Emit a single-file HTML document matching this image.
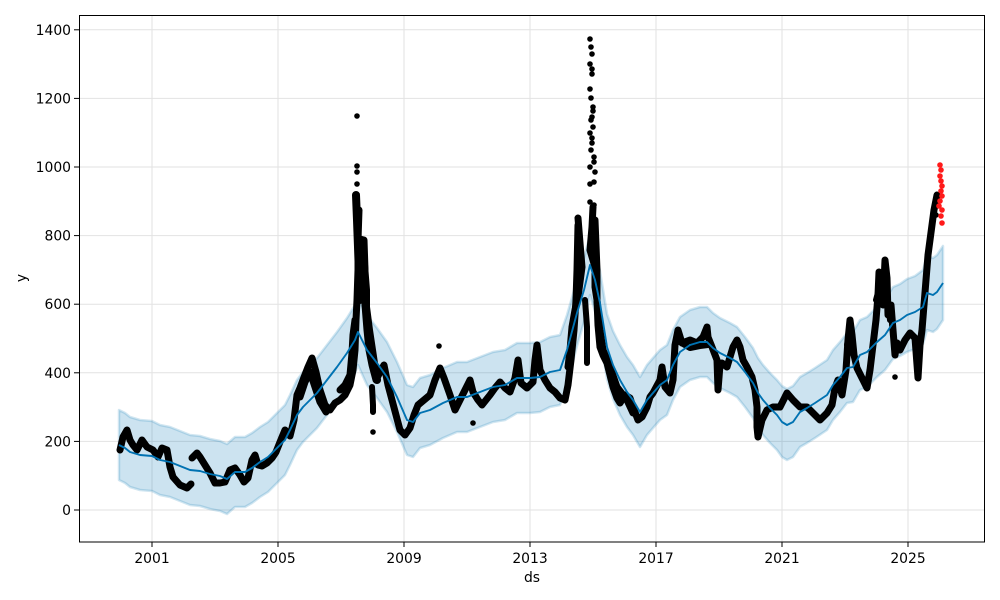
<!DOCTYPE html>
<html><head><meta charset="utf-8"><style>
html,body{margin:0;padding:0;background:#fff;}
svg{display:block;}
text{font-family:"DejaVu Sans","Liberation Sans",sans-serif;font-size:13.9px;fill:#000;}
</style></head><body>
<svg width="1000" height="600" viewBox="0 0 1000 600" xmlns="http://www.w3.org/2000/svg">
<defs>
<path id="ln" fill="none" d="M119,445 L125,448 130,452 140,455 152,456 160,460 170,462 180,466 190,470 200,471 210,474 220,476 227,479 235,472 245,472 252,468 260,462 268,457 278,447 285,440 290,430 297,415 303,407 310,400 317,393 327,380 337,367 347,353 355,340 358,332 362,340 367,350 377,363 387,377 397,397 407,420 413,422 420,413 430,410 443,403 457,397 467,397 480,392 493,387 505,385 517,378 530,378 540,377 550,372 560,370 567,350 577,313 584,290 590,265 595,280 600,303 607,347 613,365 620,380 627,392 633,400 640,412 647,400 653,393 660,385 667,380 673,365 680,352 690,345 700,342 707,342 713,348 720,353 730,358 737,362 745,372 753,383 758,393 763,400 770,408 777,415 782,422 787,425 793,422 800,412 807,408 815,403 827,395 833,385 840,377 847,368 853,367 860,355 867,352 877,342 885,335 893,323 900,320 907,315 915,312 923,307 927,293 933,295 937,292 943,283"/>
</defs>
<rect width="1000" height="600" fill="#fff"/>
<!-- grid -->
<g stroke="#e2e2e2" stroke-width="1">
<line x1="152" y1="15" x2="152" y2="542"/><line x1="278" y1="15" x2="278" y2="542"/><line x1="404" y1="15" x2="404" y2="542"/><line x1="530" y1="15" x2="530" y2="542"/><line x1="656" y1="15" x2="656" y2="542"/><line x1="782" y1="15" x2="782" y2="542"/><line x1="908" y1="15" x2="908" y2="542"/>
<line x1="79" y1="510" x2="985" y2="510"/><line x1="79" y1="441.4" x2="985" y2="441.4"/><line x1="79" y1="372.8" x2="985" y2="372.8"/><line x1="79" y1="304.2" x2="985" y2="304.2"/><line x1="79" y1="235.6" x2="985" y2="235.6"/><line x1="79" y1="167" x2="985" y2="167"/><line x1="79" y1="98.4" x2="985" y2="98.4"/><line x1="79" y1="29.8" x2="985" y2="29.8"/>
</g>
<!-- band -->
<polygon fill="#0072B2" fill-opacity="0.2" stroke="#0072B2" stroke-opacity="0.18" stroke-width="2.5" stroke-linejoin="round" points="119,410 125,413 130,417 140,420 152,421 160,425 170,427 180,431 190,435 200,436 210,439 220,441 227,444 235,437 245,437 252,433 260,427 268,422 278,412 285,405 290,395 297,380 303,372 310,365 317,358 327,345 337,332 347,318 355,305 358,299 362,306 367,315 377,328 387,342 397,362 407,385 413,387 420,378 430,375 443,368 457,362 467,362 480,357 493,352 505,350 517,343 530,343 540,342 550,337 560,335 567,315 577,280 584,258 590,235 595,249 600,271 607,314 613,331 620,345 627,357 633,365 640,377 647,365 653,358 660,350 667,345 673,330 680,317 690,310 700,307 707,307 713,313 720,318 730,323 737,327 745,337 753,348 758,358 763,365 770,373 777,380 782,386 787,389 793,386 800,377 807,373 815,368 827,360 833,350 840,342 847,333 853,332 860,320 867,317 877,307 885,300 893,287 900,284 907,279 915,276 923,270 927,256 933,258 937,255 943,246 943,320 937,329 933,332 927,330 923,344 915,349 907,352 900,356 893,359 885,370 877,377 867,387 860,390 853,402 847,403 840,412 833,420 827,430 815,438 807,443 800,447 793,457 787,460 782,457 777,450 770,443 763,435 758,428 753,418 745,407 737,397 730,393 720,388 713,383 707,377 700,377 690,380 680,387 673,400 667,415 660,420 653,428 647,435 640,447 633,435 627,427 620,415 613,399 607,379 600,335 595,311 590,295 584,322 577,346 567,385 560,405 550,407 540,412 530,413 517,413 505,420 493,422 480,427 467,432 457,432 443,438 430,445 420,448 413,457 407,455 397,432 387,412 377,398 367,385 362,374 358,365 355,373 347,388 337,402 327,415 317,428 310,435 303,442 297,450 290,465 285,475 278,482 268,492 260,497 252,503 245,507 235,507 227,514 220,511 210,509 200,506 190,505 180,501 170,497 160,495 152,491 140,490 130,487 125,483 119,480"/>
<!-- data -->
<g fill="none" stroke="#000" stroke-width="7" stroke-linejoin="round" stroke-linecap="round">
<polyline points="120,450 123,437 127,430 130,440 133,445 137,450 142,440 147,447 153,450 158,457 162,448 167,450 170,467 173,477 180,485 187,488 191,484"/>
<polyline points="192,458 197,453 200,457 205,465 210,473 215,483 220,483 225,482 230,470 235,468 240,475 244,482 248,478 252,460 255,455 258,465 262,466 267,463 272,458 276,452 280,442 285,430 290,436 294,420 297,395 300,388 303,380 308,367 312,358 316,372 320,390 325,405 330,410 335,403 340,400 345,395 350,385 353,370 355,350 356,320 357,300 358,270 358,240 359,210"/>
<polyline points="300,397 305,382 310,372 315,387 320,402 326,412" stroke-width="7"/>
<polyline points="340,390 345,385 350,375 352,353 353,335 355,320" stroke-width="7"/>
<polyline points="356,195 357,220 358,247 359,275 360,300" stroke-width="8"/>
<polyline points="362,240 364,265 366,290 366,307 369,330 372,350 375,370 377,380" stroke-width="8"/>
<polyline points="372,387 373,405 373,412" stroke-width="6"/>
<polyline points="364,240 365,270 365,305 367,330 369,350 372,365 376,380 380,372 384,365 388,385 392,400 396,415 400,430 405,435 410,428 414,415 418,405 424,400 430,395 435,380 440,368 444,378 450,395 455,410 460,400 465,390 470,380 473,392 478,400 482,405 486,400 490,395 495,388 500,382 505,388 510,392 515,378 518,360 521,383 527,388 533,382 535,360 537,345 540,370 545,380 550,388 555,392 560,398 565,400 568,385 571,360 574,330 576,300 577,270 578,225"/>
<polyline points="578,218 580,243 582,267 578,297 575,310 572,327 570,350 568,367" stroke-width="7"/>
<polyline points="585,300 587,327 587,347 587,363" stroke-width="6"/>
<polyline points="593,207 592,227 590,250 595,267 595,287 597,300 600,330 603,350 610,367 617,387 627,400 633,413" stroke-width="7"/>
<polyline points="595,220 596,245 597,270 597,300 598,325 600,347 603,355 607,363 610,375 613,387 617,398 620,403 625,395 630,398 633,407 638,420 642,417 647,407 650,397 653,393 660,380 662,367 665,387 670,393 673,380 675,345 678,330 682,343 690,340 697,343 703,337 707,327 708,337 712,347 717,360 718,390 720,365 722,363 727,367 733,347 737,340 740,347 743,360 747,367 752,377 755,390 757,407 757,427 758,437 762,420 767,410 773,407 780,407 787,393 793,400 800,407 807,407 813,413 820,420 827,413 832,405 835,388 838,380 842,395 846,370 848,340 850,320 852,335 854,355 857,368 862,378 867,388 870,370 873,345 876,320 878,295 879,272 881,290 883,305 885,260 887,278 888,315 891,305 893,330 895,355 897,343 900,350 905,340 910,333 915,338 918,378 920,345 922,330 924,305 926,280 928,255 930,240 932,225 934,210 936,200 937,195"/>
<polyline points="678,341 690,348 700,346 708,345" stroke-width="6"/>
<polyline points="876,300 880,285 884,272 887,292 890,320" stroke-width="6"/>
<polyline points="847,345 850,330 852,348" stroke-width="6"/>
</g>
<g fill="#000">
<circle cx="357" cy="116" r="2.8"/><circle cx="357" cy="166" r="2.8"/><circle cx="357" cy="172" r="2.8"/><circle cx="357" cy="184" r="2.8"/><circle cx="373" cy="432" r="2.8"/><circle cx="439" cy="346" r="2.8"/><circle cx="473" cy="423" r="2.8"/>
<circle cx="590" cy="39" r="2.8"/><circle cx="591" cy="47" r="2.8"/><circle cx="592" cy="54" r="2.8"/><circle cx="590" cy="64" r="2.8"/><circle cx="592" cy="69" r="2.8"/><circle cx="592" cy="74" r="2.8"/><circle cx="590" cy="89" r="2.8"/><circle cx="591" cy="98" r="2.8"/><circle cx="593" cy="107" r="2.8"/><circle cx="593" cy="111" r="2.8"/><circle cx="592" cy="117" r="2.8"/><circle cx="591" cy="120" r="2.8"/><circle cx="593" cy="127" r="2.8"/><circle cx="590" cy="133" r="2.8"/><circle cx="592" cy="138" r="2.8"/><circle cx="592" cy="143" r="2.8"/><circle cx="591" cy="150" r="2.8"/><circle cx="594" cy="157" r="2.8"/><circle cx="594" cy="162" r="2.8"/><circle cx="590" cy="167" r="2.8"/><circle cx="595" cy="172" r="2.8"/><circle cx="594" cy="182" r="2.8"/><circle cx="590" cy="184" r="2.8"/><circle cx="590" cy="202" r="2.8"/><circle cx="594" cy="205" r="2.8"/><circle cx="895" cy="377" r="2.8"/><circle cx="935" cy="205" r="2.8"/><circle cx="936" cy="215" r="2.8"/>
</g>
<g fill="#ff1a1a">
<circle cx="940" cy="165" r="2.8"/><circle cx="941" cy="170" r="2.8"/><circle cx="940" cy="176" r="2.8"/><circle cx="941" cy="181" r="2.8"/><circle cx="942" cy="186" r="2.8"/><circle cx="941" cy="191" r="2.8"/><circle cx="942" cy="196" r="2.8"/><circle cx="940" cy="201" r="2.8"/><circle cx="939" cy="206" r="2.8"/><circle cx="942" cy="210" r="2.8"/><circle cx="941" cy="216" r="2.8"/><circle cx="942" cy="223" r="2.8"/>
</g>
<!-- forecast line -->
<use href="#ln" stroke="#0072B2" stroke-width="1.9" stroke-linejoin="round"/>
<!-- frame -->
<rect x="79.5" y="15.5" width="905" height="526.5" fill="none" stroke="#000" stroke-width="1"/>
<g stroke="#000" stroke-width="1">
<line x1="152" y1="542" x2="152" y2="547"/><line x1="278" y1="542" x2="278" y2="547"/><line x1="404" y1="542" x2="404" y2="547"/><line x1="530" y1="542" x2="530" y2="547"/><line x1="656" y1="542" x2="656" y2="547"/><line x1="782" y1="542" x2="782" y2="547"/><line x1="908" y1="542" x2="908" y2="547"/>
<line x1="74" y1="510" x2="79" y2="510"/><line x1="74" y1="441.4" x2="79" y2="441.4"/><line x1="74" y1="372.8" x2="79" y2="372.8"/><line x1="74" y1="304.2" x2="79" y2="304.2"/><line x1="74" y1="235.6" x2="79" y2="235.6"/><line x1="74" y1="167" x2="79" y2="167"/><line x1="74" y1="98.4" x2="79" y2="98.4"/><line x1="74" y1="29.8" x2="79" y2="29.8"/>
</g>
<g text-anchor="middle">
<text x="152" y="563">2001</text><text x="278" y="563">2005</text><text x="404" y="563">2009</text><text x="530" y="563">2013</text><text x="656" y="563">2017</text><text x="782" y="563">2021</text><text x="908" y="563">2025</text>
<text x="532" y="582">ds</text>
</g>
<g text-anchor="end">
<text x="71" y="515">0</text><text x="71" y="446.4">200</text><text x="71" y="377.8">400</text><text x="71" y="309.2">600</text><text x="71" y="240.6">800</text><text x="71" y="172">1000</text><text x="71" y="103.4">1200</text><text x="71" y="34.8">1400</text>
</g>
<text x="0" y="0" text-anchor="middle" transform="translate(26,278) rotate(-90)">y</text>
</svg>
</body></html>
